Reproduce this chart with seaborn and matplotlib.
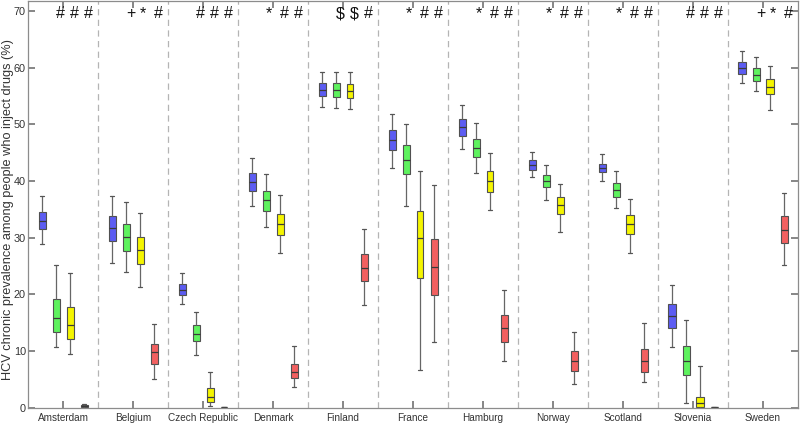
import numpy as np
import pandas as pd
import matplotlib
matplotlib.use("Agg")
import matplotlib.pyplot as plt
import seaborn as sns

# ---------------- data (five-number summaries: low whisker, Q1, median, Q3, high whisker) -------------
regions = ["Amsterdam", "Belgium", "Czech Republic", "Denmark", "Finland", "France",
           "Hamburg", "Norway", "Scotland", "Slovenia", "Sweden"]
scenarios = ["Scenario 1", "Scenario 2", "Scenario 3", "Scenario 4"]

blue_stats = [
    [28.9, 31.5, 33.0, 34.5, 37.4],   # Amsterdam
    [25.6, 29.5, 31.7, 33.8, 37.4],   # Belgium
    [18.2, 19.9, 20.8, 21.9, 23.7],   # Czech Republic
    [35.6, 38.2, 39.9, 41.4, 44.1],   # Denmark
    [53.0, 55.0, 56.1, 57.3, 59.3],   # Finland
    [42.3, 45.5, 47.3, 49.0, 51.8],   # France
    [45.7, 48.0, 49.5, 51.0, 53.4],   # Hamburg
    [40.7, 42.0, 42.8, 43.7, 45.1],   # Norway
    [40.1, 41.6, 42.3, 43.1, 44.7],   # Scotland
    [10.6, 14.0, 16.2, 18.3, 21.7],   # Slovenia
    [57.3, 59.0, 60.0, 61.0, 62.9],   # Sweden
]
green_stats = [
    [10.6, 13.3, 15.8, 19.2, 25.1],
    [23.9, 27.7, 30.1, 32.5, 36.3],
    [9.2, 11.7, 13.0, 14.5, 16.8],
    [31.9, 34.8, 36.7, 38.3, 41.3],
    [52.9, 54.9, 56.1, 57.3, 59.3],
    [35.6, 41.3, 43.8, 46.4, 50.1],
    [41.4, 44.2, 45.8, 47.4, 50.2],
    [36.7, 38.9, 40.0, 41.0, 42.8],
    [35.2, 37.2, 38.5, 39.6, 41.7],
    [0.8, 5.7, 8.2, 10.9, 15.5],
    [55.9, 57.7, 58.7, 59.9, 62.0],
]
yellow_stats = [
    [9.4, 12.1, 14.5, 17.8, 23.8],
    [21.2, 25.4, 27.9, 30.2, 34.4],
    [0.3, 1.0, 1.9, 3.4, 6.2],
    [27.3, 30.5, 32.5, 34.2, 37.5],
    [52.8, 54.7, 56.0, 57.2, 59.2],
    [6.6, 22.9, 29.9, 34.7, 41.7],
    [34.9, 38.0, 40.0, 41.7, 45.0],
    [31.0, 34.2, 35.8, 37.1, 39.4],
    [27.3, 30.7, 32.4, 34.0, 36.8],
    [0.0, 0.15, 0.85, 1.9, 7.3],
    [52.5, 55.3, 56.7, 58.0, 60.4],
]
red_stats = [
    [0.0, 0.1, 0.25, 0.4, 0.6],
    [5.0, 7.7, 9.75, 11.3, 14.7],
    [0.0, 0.02, 0.04, 0.06, 0.1],
    [3.6, 5.2, 6.3, 7.6, 10.9],
    [18.1, 22.4, 24.7, 27.1, 31.5],
    [11.5, 19.9, 24.8, 29.7, 39.3],
    [8.2, 11.6, 14.0, 16.3, 20.8],
    [4.2, 6.5, 8.2, 9.9, 13.3],
    [4.5, 6.3, 8.2, 10.4, 14.9],
    [0.0, 0.02, 0.04, 0.06, 0.1],
    [25.1, 29.0, 31.4, 33.8, 37.9],
]
# significance markers above scenarios 2, 3, 4
markers = [
    ["#", "#", "#"], ["+", "*", "#"], ["#", "#", "#"], ["*", "#", "#"],
    ["$", "$", "#"], ["*", "#", "#"], ["*", "#", "#"], ["*", "#", "#"],
    ["*", "#", "#"], ["#", "#", "#"], ["+", "*", "#"],
]
ylabel = "HCV chronic prevalence among people who inject drugs (%)"
yticks = [0, 10, 20, 30, 40, 50, 60, 70]

colors = ["#5c5cf2", "#5ef25e", "#f5f500", "#f26060"]

# ---------------- build long table -------------
rows = []
for scen, stats in zip(scenarios, [blue_stats, green_stats, yellow_stats, red_stats]):
    for reg, vals in zip(regions, stats):
        for v in vals:
            rows.append({"region": reg, "scenario": scen, "value": v})
df = pd.DataFrame(rows)

sns.set_theme(style="white")
plt.rcParams["font.family"] = ["Liberation Sans", "DejaVu Sans"]

fig = plt.figure(figsize=(8, 4.24), dpi=100)
ax = fig.add_axes([28 / 800, 1 - 407.5 / 424, 770 / 800, 407 / 424])

# separators
for i in range(len(regions) - 1):
    ax.axvline(i + 0.5, color="#b4b4b4", lw=0.9, ls=(0, (5, 3.5)), zorder=0)

sns.boxplot(data=df, x="region", y="value", hue="scenario", order=regions,
            hue_order=scenarios, palette=colors, saturation=1, whis=(0, 100),
            width=0.8, gap=0.5, linewidth=0.8, linecolor="#505050",
            showfliers=False, legend=False, ax=ax,
            medianprops={"color": "#3a3a3a", "linewidth": 0.9},
            whiskerprops={"color": "#666666", "linewidth": 0.9},
            capprops={"color": "#555555", "linewidth": 0.9})

ax.set_xlim(-0.5, len(regions) - 0.5)
ax.set_ylim(0, 71.9)
ax.set_yticks(yticks)
ax.set_xlabel("")
ax.set_ylabel(ylabel, fontsize=9.2, color="#333333")
ax.yaxis.set_label_coords(-0.0178, 0.487)

offsets = [-0.1, 0.1, 0.3]
for i, marks in enumerate(markers):
    for off, m in zip(offsets, marks):
        ax.text(i + off, 68.8, m, ha="left", va="baseline", fontsize=11.5, color="#111111")

for s in ax.spines.values():
    s.set_color("#8c8c8c")
    s.set_linewidth(0.9)
    s.set_visible(True)

ax.tick_params(axis="x", which="both", direction="in", length=5, top=True, bottom=True,
               color="#777777", labelsize=7.2, labelcolor="#333333", pad=4)
ax.tick_params(axis="y", which="both", direction="in", length=5, left=True, right=True,
               color="#777777", labelsize=7.8, labelcolor="#333333", pad=1.5)

fig.savefig("out.png", dpi=100)
